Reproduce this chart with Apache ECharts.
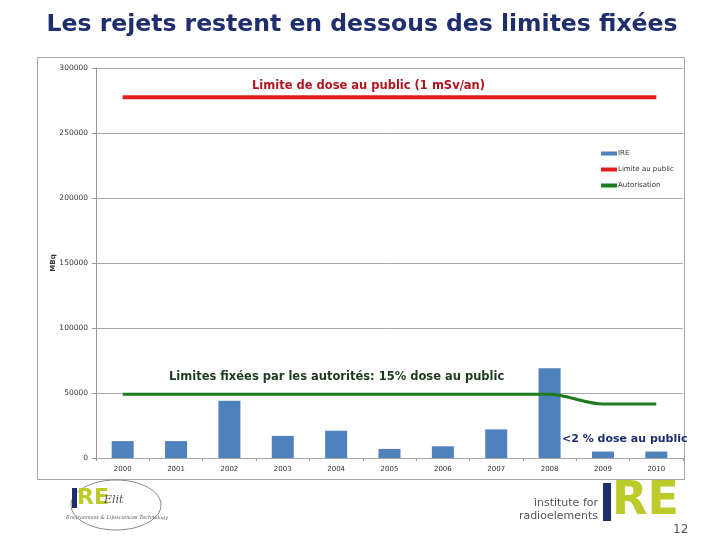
<!DOCTYPE html>
<html><head><meta charset="utf-8">
<script src="https://cdn.jsdelivr.net/npm/echarts@6/dist/echarts.min.js"></script>
<style>html,body{margin:0;padding:0;background:#fff}#c{width:720px;height:540px}</style>
</head><body><div id="c"></div>
<script>
const years = ['2000','2001','2002','2003','2004','2005','2006','2007','2008','2009','2010'];
const ireValues = [13000, 13000, 44000, 17000, 21000, 7000, 9000, 22000, 69000, 5000, 5000];
const limitePublic = [277500, 277500, 277500, 277500, 277500, 277500, 277500, 277500, 277500, 277500, 277500];
const autorisation = [49000, 49000, 49000, 49000, 49000, 49000, 49000, 49000, 49000, 41500, 41500];
const yTicks = [0, 50000, 100000, 150000, 200000, 250000, 300000];

const chart = echarts.init(document.getElementById('c'), null, {renderer:'canvas'});
chart.setOption({
  animation: false,
  backgroundColor: '#fff',
  title: {
    text: 'Les rejets restent en dessous des limites fixées',
    left: 357, textAlign: 'center', top: 8,
    textStyle: {fontFamily: 'DejaVu Sans', fontWeight: 'bold', fontSize: 23.5, color: '#1F2F6E'}
  },
  grid: {left: 96, top: 68, right: 37, bottom: 82, containLabel: false},
  legend: {
    orient: 'vertical', left: 596, top: 145, itemGap: 9,
    itemWidth: 16, itemHeight: 4, icon: 'rect',
    textStyle: {fontFamily: 'DejaVu Sans', fontSize: 7, color: '#333', padding: [0,0,0,-4]},
    data: ['IRE', 'Limite au public', 'Autorisation']
  },
  xAxis: {
    type: 'category', data: years,
    axisLine: {show: false},
    axisTick: {show: true, length: 3, lineStyle: {color: '#999'}},
    axisLabel: {fontFamily: 'DejaVu Sans', fontSize: 7, color: '#333', margin: 8}
  },
  yAxis: {
    type: 'value', min: yTicks[0], max: yTicks[yTicks.length-1], interval: 50000,
    axisLine: {show: true, lineStyle: {color: '#999'}},
    axisTick: {show: true, length: 4, lineStyle: {color: '#999'}},
    axisLabel: {fontFamily: 'DejaVu Sans', fontSize: 7.5, color: '#333', margin: 8, formatter: v => String(v)},
    splitLine: {show: true, lineStyle: {color: '#A8A8A8', width: 1}}
  },
  series: [
    {name: 'IRE', type: 'bar', data: ireValues, barWidth: 22, itemStyle: {color: '#4F81BD'}, z: 2},
    {name: 'Limite au public', type: 'line', data: limitePublic, symbol: 'none', itemStyle: {color: '#E31C1C'}, lineStyle: {color: '#E31C1C', width: 4}, z: 3},
    {name: 'Autorisation', type: 'line', data: autorisation, symbol: 'none', smooth: 0.3, smoothMonotone: 'x', itemStyle: {color: '#1E7A1E'}, lineStyle: {color: '#1E7A1E', width: 3}, z: 3}
  ],
  graphic: [
    {type: 'rect', shape: {x: 37.5, y: 57.5, width: 647, height: 422}, style: {fill: 'none', stroke: '#A6A6A6', lineWidth: 1}, z: -1},
    {type: 'text', x: 53, y: 263, rotation: Math.PI / 2, style: {x: 0, y: 0, text: 'MBq', font: 'bold 7px "DejaVu Sans"', fill: '#333', textAlign: 'center', textVerticalAlign: 'middle'}, z: 10},
    {type: 'text', style: {x: 252, y: 86, text: 'Limite de dose au public (1 mSv/an)', font: 'bold 11.5px "DejaVu Sans"', fill: '#B0141E', textVerticalAlign: 'middle'}, z: 10},
    {type: 'text', style: {x: 169, y: 377, text: 'Limites fixées par les autorités: 15% dose au public', font: 'bold 11.5px "DejaVu Sans"', fill: '#1C3A1C', textVerticalAlign: 'middle'}, z: 10},
    {type: 'text', style: {x: 562, y: 439, text: '<2 % dose au public', font: 'bold 11px "DejaVu Sans"', fill: '#1F2F6E', textVerticalAlign: 'middle'}, z: 10},
    // right logo
    {type: 'text', style: {x: 598, y: 503, text: 'institute for', font: '11px "DejaVu Sans"', fill: '#555', textAlign: 'right', textVerticalAlign: 'middle'}, z: 10},
    {type: 'text', style: {x: 598, y: 516, text: 'radioelements', font: '11px "DejaVu Sans"', fill: '#555', textAlign: 'right', textVerticalAlign: 'middle'}, z: 10},
    {type: 'rect', shape: {x: 603, y: 483, width: 8, height: 38}, style: {fill: '#1F2F6E'}, z: 10},
    {type: 'text', style: {x: 612, y: 502, text: 'RE', font: 'bold 46px "DejaVu Sans"', fill: '#BDCB2A', textVerticalAlign: 'middle'}, z: 10},
    {type: 'text', style: {x: 673, y: 530, text: '12', font: '12px "DejaVu Sans"', fill: '#555', textVerticalAlign: 'middle'}, z: 10},
    // left logo
    {type: 'ellipse', shape: {cx: 116, cy: 505, rx: 45, ry: 25}, style: {fill: 'none', stroke: '#888', lineWidth: 1}, z: 10},
    {type: 'rect', shape: {x: 72, y: 488, width: 5, height: 20}, style: {fill: '#1F2F6E'}, z: 10},
    {type: 'text', style: {x: 77, y: 498, text: 'RE', font: 'bold 22px "DejaVu Sans"', fill: '#BDCB2A', textVerticalAlign: 'middle'}, z: 10},
    {type: 'text', style: {x: 104, y: 500, text: 'Elit', font: 'italic 11px "DejaVu Serif"', fill: '#555', textVerticalAlign: 'middle'}, z: 10},
    {type: 'text', style: {x: 66, y: 518, text: 'Environment & Lifesciences Technology', font: 'italic 5px "DejaVu Serif"', fill: '#555', textVerticalAlign: 'middle'}, z: 10}
  ]
});
</script></body></html>
